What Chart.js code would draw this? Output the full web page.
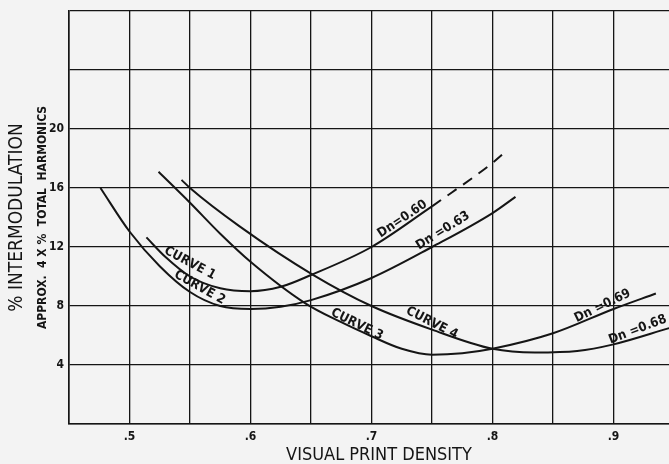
<!DOCTYPE html>
<html>
<head>
<meta charset="utf-8">
<script src="https://cdn.jsdelivr.net/npm/chart.js@4.4.0/dist/chart.umd.min.js"></script>
<style>
  html, body { margin: 0; padding: 0; background: #f3f3f3; overflow: hidden; }
  canvas { display: block; }
</style>
</head>
<body>
<canvas id="myChart" width="674" height="464"></canvas>
<script>
// visual print density (x) vs % intermodulation (y)
const densityLabels = [0.5, 0.6, 0.7, 0.8, 0.9];
const imLabels = [4, 8, 12, 16, 20];

const curve1X = [0.514, 0.53, 0.55, 0.575, 0.6, 0.625, 0.65, 0.7, 0.75];
const curve1Y = [12.65, 11.3, 10.0, 9.2, 9.0, 9.3, 10.1, 12.0, 14.75];
const curve1DashX = [0.75, 0.8, 0.81];
const curve1DashY = [14.75, 17.7, 18.4];

const curve2X = [0.476, 0.5, 0.525, 0.55, 0.575, 0.6, 0.625, 0.65, 0.7, 0.75, 0.8, 0.819];
const curve2Y = [16.0, 13.05, 10.7, 8.95, 8.0, 7.8, 7.95, 8.4, 9.9, 12.0, 14.3, 15.4];

const curve3X = [0.524, 0.55, 0.575, 0.6, 0.645, 0.675, 0.7, 0.725, 0.75, 0.775, 0.8, 0.85, 0.9, 0.935];
const curve3Y = [17.1, 15.0, 12.9, 11.0, 8.2, 6.9, 5.95, 5.1, 4.7, 4.8, 5.1, 6.15, 7.8, 8.85];

const curve4X = [0.543, 0.55, 0.591, 0.652, 0.7, 0.75, 0.8, 0.835, 0.87, 0.9, 0.946];
const curve4Y = [16.55, 16.0, 13.4, 10.1, 8.0, 6.4, 5.1, 4.85, 4.95, 5.4, 6.5];

// text written along the curves: [text, x, y, angle in degrees]
const curveNotes = [
    ["CURVE 1", 0.55, 10.9, 28],
    ["CURVE 2", 0.558, 9.25, 29],
    ["CURVE 3", 0.688, 6.75, 26],
    ["CURVE 4", 0.75, 6.85, 27],
    ["Dn=0.60", 0.7256, 13.9, -34],
    ["Dn =0.63", 0.759, 13.1, -32],
    ["Dn =0.69", 0.891, 8.0, -26],
    ["Dn =0.68", 0.92, 6.4, -21]
];

const INK = "#151515";
const FONT = "'DejaVu Sans Condensed', 'DejaVu Sans', sans-serif";

const toPoints = (xs, ys) => xs.map((x, i) => ({ x: x, y: ys[i] }));

const curveStyle = {
    showLine: true,
    borderColor: INK,
    borderWidth: 2,
    pointRadius: 0,
    cubicInterpolationMode: "monotone",
    fill: false
};

const notesPlugin = {
    id: "notes",
    afterDatasetsDraw(chart) {
        const { ctx, scales } = chart;
        const area = chart.chartArea;
        ctx.save();
        ctx.fillStyle = INK;
        ctx.font = "bold 13px " + FONT;
        ctx.textAlign = "center";
        ctx.textBaseline = "middle";
        curveNotes.forEach(([text, x, y, angle]) => {
            ctx.save();
            ctx.translate(scales.x.getPixelForValue(x), scales.y.getPixelForValue(y));
            ctx.rotate(angle * Math.PI / 180);
            ctx.fillText(text, 0, 0);
            ctx.restore();
        });
        // x axis title, sits a little right of centre in the original
        ctx.font = "18px " + FONT;
        ctx.fillText("VISUAL PRINT DENSITY", 379, 455);
        // second line of the y axis title
        ctx.translate(43, (area.top + area.bottom) / 2);
        ctx.rotate(-Math.PI / 2);
        ctx.font = "bold 12px " + FONT;
        ctx.fillText("APPROX.  4 X %  TOTAL  HARMONICS", 0, 0);
        ctx.restore();
    }
};

const ctx = document.getElementById("myChart");

const myChart = new Chart(ctx, {
    type: "scatter",
    data: {
        datasets: [
            { ...curveStyle, label: "Curve 1", data: toPoints(curve1X, curve1Y) },
            { ...curveStyle, label: "Curve 1 (extended)", data: toPoints(curve1DashX, curve1DashY), borderDash: [11, 8] },
            { ...curveStyle, label: "Curve 2", data: toPoints(curve2X, curve2Y) },
            { ...curveStyle, label: "Curve 3", data: toPoints(curve3X, curve3Y) },
            { ...curveStyle, label: "Curve 4", data: toPoints(curve4X, curve4Y) }
        ]
    },
    options: {
        responsive: false,
        animation: false,
        layout: { padding: { top: 11, right: 0, bottom: 0, left: 0 } },
        plugins: {
            legend: { display: false },
            tooltip: { enabled: false }
        },
        scales: {
            x: {
                type: "linear",
                min: 0.45,
                max: 0.95,
                afterFit: s => { s.height = 40; s.paddingLeft = 0; s.paddingRight = 0; },
                grid: { color: INK, lineWidth: 1.3, drawTicks: false },
                border: { color: INK, width: 1.6 },
                ticks: {
                    stepSize: 0.05,
                    padding: 6,
                    color: INK,
                    font: { family: FONT, size: 12, weight: "bold" },
                    maxRotation: 0,
                    autoSkip: false,
                    callback: v => {
                        const r = Math.round(v * 100) / 100;
                        return densityLabels.includes(r) ? "." + Math.round(r * 10) : "";
                    }
                }
            },
            y: {
                min: 0,
                max: 28,
                afterFit: s => { s.width = 69; s.paddingTop = 0; s.paddingBottom = 0; },
                grid: { color: INK, lineWidth: 1.3, drawTicks: false },
                border: { color: INK, width: 1.6 },
                ticks: {
                    stepSize: 4,
                    padding: 5,
                    color: INK,
                    font: { family: FONT, size: 12, weight: "bold" },
                    callback: v => imLabels.includes(v) ? String(v) : ""
                },
                title: {
                    display: true,
                    text: "% INTERMODULATION",
                    color: INK,
                    font: { family: FONT, size: 19 },
                    padding: { top: 6, bottom: 0 }
                }
            }
        }
    },
    plugins: [notesPlugin]
});
</script>
</body>
</html>
